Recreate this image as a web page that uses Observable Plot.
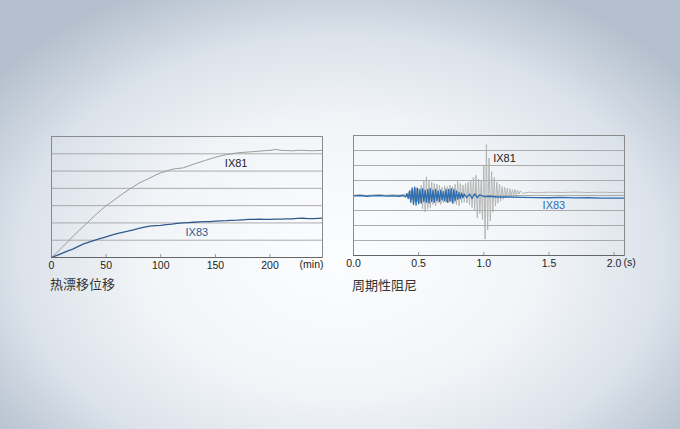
<!DOCTYPE html>
<html><head><meta charset="utf-8">
<script src="https://cdn.jsdelivr.net/npm/d3@7"></script>
<script src="https://cdn.jsdelivr.net/npm/@observablehq/plot@0.6"></script>
<style>
html,body{margin:0;padding:0;}
body{width:680px;height:429px;overflow:hidden;position:relative;
background:radial-gradient(ellipse 64% 70% at 50% 60%, #fcfdfe 0%, #f2f5f8 45%, #dbe2ea 74%, #b3bfcd 100%);
font-family:"Liberation Sans",Arial,sans-serif;}
.chart{position:absolute;}
.cap{position:absolute;font-family:"Noto Sans CJK SC",sans-serif;font-size:13px;color:#333;line-height:1;}
</style></head><body>
<div id="left" class="chart" style="left:30px;top:120px"></div>
<div id="right" class="chart" style="left:340px;top:120px"></div>
<div class="cap" style="left:50px;top:277px">热漂移位移</div>
<div class="cap" style="left:352px;top:278px">周期性阻尼</div>
<script>
// ---------- Left: thermal drift ----------
const driftMin = [0,5,10,15,20,25,30,35,40,45,50,55,60,65,70,75,80,85,90,95,100,105,110,115,120,125,130,135,140,145,150,155,160,165,170,175,180,185,190,195,200,205,210,215,220,225,230,235,240,248];
const ix81Drift = [0,0.3,0.6,0.92,1.25,1.55,1.85,2.15,2.45,2.72,3.0,3.22,3.45,3.68,3.9,4.1,4.3,4.45,4.6,4.76,4.9,5.0,5.1,5.15,5.18,5.28,5.4,5.5,5.6,5.7,5.8,5.88,5.95,6.0,6.05,6.08,6.1,6.13,6.15,6.18,6.2,6.25,6.2,6.19,6.17,6.2,6.2,6.18,6.18,6.2];
const ix83Drift = [0,0.12,0.25,0.38,0.5,0.66,0.8,0.9,1.0,1.1,1.2,1.3,1.38,1.45,1.52,1.6,1.68,1.76,1.82,1.84,1.86,1.9,1.93,1.97,2.0,2.02,2.04,2.06,2.07,2.08,2.1,2.12,2.13,2.15,2.16,2.18,2.2,2.21,2.22,2.21,2.21,2.22,2.22,2.23,2.24,2.26,2.27,2.25,2.25,2.28];
const leftTicks = [0,50,100,150,200];
const leftUnit = {x:238, text:"(min)"};
const leftGrid = [1,2,3,4,5,6];
const leftLabels = [{x:169,y:5.43,text:"IX81",c:"#222"},{x:133,y:1.43,text:"IX83",c:"#2b5c98"}];

// ---------- Right: periodic damping ----------
const dampT81 = [0,0.05,0.10,0.15,0.20,0.25,0.30,0.35,0.40,0.41,0.42,0.43,0.44,0.45,0.46,0.47,0.48,0.49,0.50,0.51,0.52,0.53,0.54,0.55,0.56,0.57,0.58,0.59,0.60,0.61,0.62,0.63,0.64,0.65,0.66,0.67,0.68,0.69,0.70,0.71,0.72,0.73,0.74,0.75,0.76,0.77,0.78,0.79,0.80,0.81,0.82,0.83,0.84,0.85,0.86,0.87,0.88,0.89,0.90,0.91,0.92,0.93,0.94,0.95,0.96,0.97,0.98,0.99,1.00,1.01,1.02,1.03,1.04,1.05,1.06,1.07,1.08,1.09,1.10,1.11,1.12,1.13,1.14,1.15,1.16,1.17,1.18,1.19,1.20,1.21,1.22,1.23,1.24,1.25,1.26,1.27,1.28,1.30,1.35,1.40,1.45,1.50,1.60,1.70,1.80,1.90,2.00,2.08];
const ix81Damp = [0.02,0.05,0.0,0.04,0.06,0.02,0.05,0.03,0.1,-0.1,0.2,-0.2,0.35,-0.3,0.4,-0.45,0.5,-0.4,0.45,-0.5,0.7,-0.9,1.0,-1.1,1.25,-0.9,1.0,-0.8,0.9,-0.6,0.8,-0.7,0.75,-0.5,0.7,-0.6,0.55,-0.5,0.65,-0.45,0.6,-0.5,0.7,-0.4,0.6,-0.55,0.75,-0.6,0.95,-0.7,0.8,-0.5,0.7,-0.45,0.8,-0.5,0.9,-0.6,1.0,-0.8,1.2,-1.0,1.35,-1.5,1.1,-1.2,1.0,-1.6,2.0,-2.9,3.4,-2.3,2.5,-1.7,1.6,-1.1,1.2,-0.7,0.9,-0.5,0.75,-0.35,0.6,-0.25,0.55,-0.15,0.5,-0.1,0.45,-0.05,0.4,0.0,0.4,0.05,0.35,0.1,0.3,0.15,0.22,0.18,0.2,0.22,0.2,0.23,0.2,0.22,0.2,0.21];
const dampT83 = [0,0.05,0.10,0.15,0.20,0.25,0.30,0.35,0.38,0.40,0.41,0.42,0.43,0.44,0.45,0.46,0.47,0.48,0.49,0.50,0.51,0.52,0.53,0.54,0.55,0.56,0.57,0.58,0.59,0.60,0.61,0.62,0.63,0.64,0.65,0.66,0.67,0.68,0.69,0.70,0.71,0.72,0.73,0.74,0.75,0.76,0.77,0.78,0.79,0.80,0.81,0.82,0.83,0.84,0.85,0.87,0.89,0.91,0.93,0.95,0.97,1.00,1.05,1.10,1.20,1.30,1.40,1.50,1.60,1.70,1.80,1.90,2.00,2.08];
const ix83Damp = [-0.02,0.0,-0.05,-0.02,0.0,-0.04,-0.02,-0.05,0.0,-0.1,0.12,-0.2,0.3,-0.45,0.5,-0.6,0.55,-0.65,0.5,-0.55,0.4,-0.5,0.45,-0.4,0.35,-0.45,0.4,-0.5,0.45,-0.4,0.35,-0.45,0.4,-0.35,0.3,-0.4,0.35,-0.3,0.25,-0.35,0.4,-0.45,0.4,-0.4,0.45,-0.5,0.4,-0.35,0.3,-0.25,0.2,-0.2,0.15,-0.15,0.1,-0.15,0.1,-0.2,0.12,-0.15,0.05,-0.08,-0.05,-0.1,-0.1,-0.12,-0.14,-0.15,-0.13,-0.16,-0.15,-0.17,-0.18,-0.17];
const rightTicks = [0,0.5,1.0,1.5,2.0];
const rightUnit = {x:2.12, text:"(s)"};
const rightGrid = [-3,-2,-1,0,1,2,3];
const rightLabels = [{x:1.159,y:2.45,text:"IX81",c:"#222"},{x:1.538,y:-0.67,text:"IX83",c:"#2e6db0"}];

const font = {fontFamily:'"Liberation Sans",Arial,sans-serif', fontSize:"10.5px", color:"#222", background:"transparent", overflow:"visible"};

const leftRows81 = driftMin.map((m,i)=>({x:m,y:ix81Drift[i]}));
const leftRows83 = driftMin.map((m,i)=>({x:m,y:ix83Drift[i]}));

const L = Plot.plot({
  width:310, height:160, marginLeft:21, marginRight:18, marginTop:16, marginBottom:23,
  style:font,
  x:{domain:[0,248], label:null}, y:{domain:[0,7], axis:null},
  marks:[
    Plot.ruleY(leftGrid, {stroke:"#a3a3a3", strokeWidth:0.9}),
    Plot.line(leftRows81, {x:"x", y:"y", stroke:"#9a9a9a", strokeWidth:1}),
    Plot.line(leftRows83, {x:"x", y:"y", stroke:"#2f5a8c", strokeWidth:1.3}),
    Plot.ruleX(leftTicks, {y1:0, y2:0.17, stroke:"#999"}),
    Plot.frame({stroke:"#8a8a8a", strokeWidth:1}),
    Plot.ruleY([0], {stroke:"#666"}),
    Plot.axisX({ticks:leftTicks, tickSize:0, tickPadding:4, tickFormat:d=>String(d), fontSize:10.5, label:null}),
    Plot.text([leftUnit], {x:"x", text:"text", frameAnchor:"bottom", dy:10, fontSize:10.5, fill:"#222"}),
    Plot.text(leftLabels, {x:"x", y:"y", text:"text", fill:"c", fontSize:11})
  ]
});
document.getElementById("left").append(L);

const r81 = dampT81.map((t,i)=>({x:t,y:ix81Damp[i]}));
const r83 = dampT83.map((t,i)=>({x:t,y:ix83Damp[i]}));
const R = Plot.plot({
  width:310, height:160, marginLeft:13, marginRight:26, marginTop:15, marginBottom:25,
  style:font,
  x:{domain:[0,2.08], label:null}, y:{domain:[-4,4], axis:null},
  marks:[
    Plot.ruleY(rightGrid, {stroke:"#a3a3a3", strokeWidth:0.9}),
    Plot.line(r81, {x:"x", y:"y", stroke:"#b0b0b0", strokeWidth:1, strokeOpacity:0.9}),
    Plot.line(r83, {x:"x", y:"y", stroke:"#2d6cae", strokeWidth:1.3}),
    Plot.ruleX(rightTicks, {y1:-4, y2:-3.8, stroke:"#999"}),
    Plot.frame({stroke:"#8a8a8a", strokeWidth:1}),
    Plot.ruleY([-4], {stroke:"#666"}),
    Plot.axisX({ticks:rightTicks, tickSize:0, tickPadding:4, tickFormat:d=>d.toFixed(1), fontSize:10.5, label:null}),
    Plot.text([rightUnit], {x:"x", text:"text", frameAnchor:"bottom", dy:10, fontSize:10.5, fill:"#222"}),
    Plot.text(rightLabels, {x:"x", y:"y", text:"text", fill:"c", fontSize:11})
  ]
});
document.getElementById("right").append(R);
</script>
</body></html>
